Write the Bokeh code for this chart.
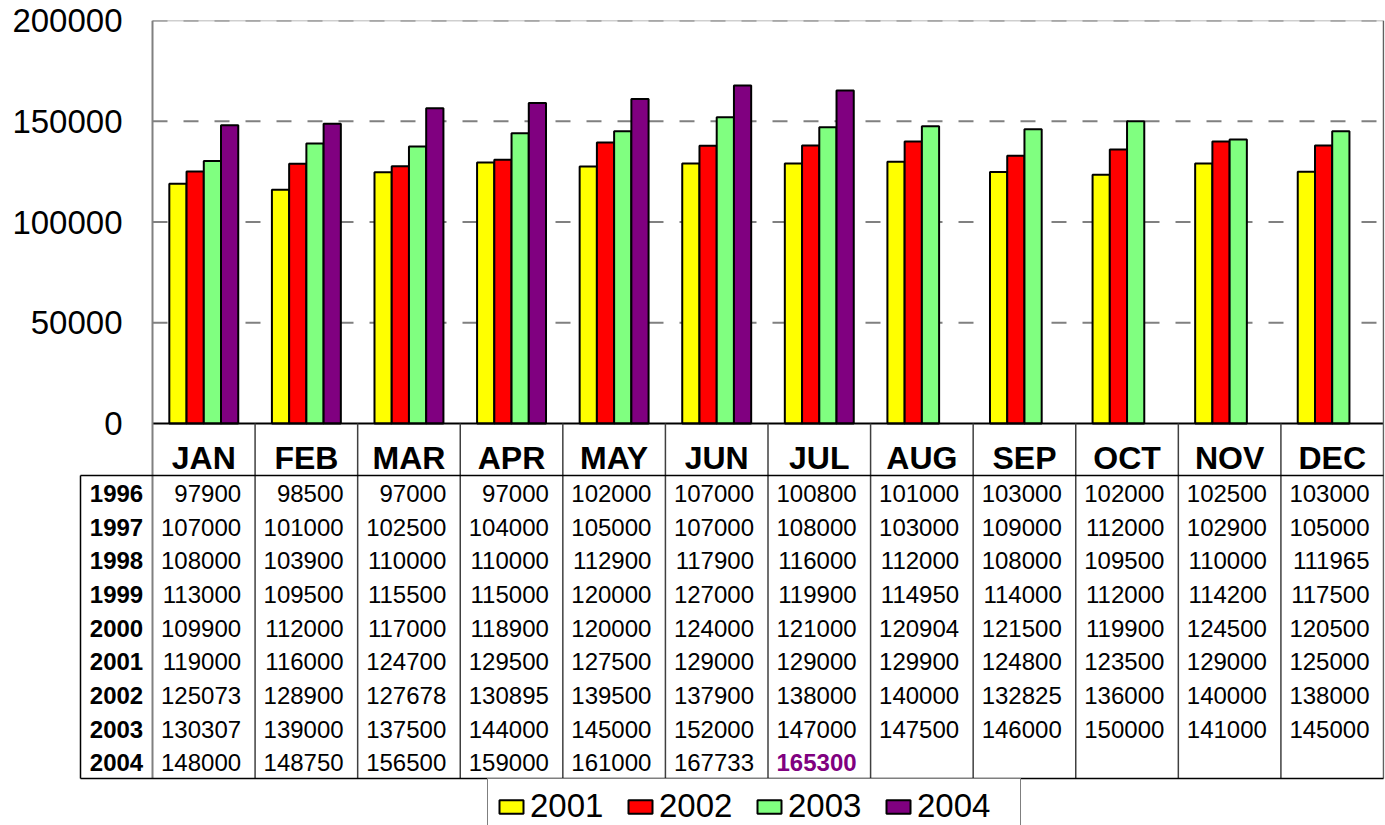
from bokeh.plotting import figure
from bokeh.models import (Range1d, FixedTicker, Legend, LegendItem, NumeralTickFormatter)
from bokeh.core.properties import value
from bokeh.embed import file_html
from bokeh.resources import INLINE

# ---------------- data ----------------
months = ["JAN", "FEB", "MAR", "APR", "MAY", "JUN", "JUL", "AUG", "SEP", "OCT", "NOV", "DEC"]
table_years = ["1996", "1997", "1998", "1999", "2000", "2001", "2002", "2003", "2004"]
v1996 = [97900, 98500, 97000, 97000, 102000, 107000, 100800, 101000, 103000, 102000, 102500, 103000]
v1997 = [107000, 101000, 102500, 104000, 105000, 107000, 108000, 103000, 109000, 112000, 102900, 105000]
v1998 = [108000, 103900, 110000, 110000, 112900, 117900, 116000, 112000, 108000, 109500, 110000, 111965]
v1999 = [113000, 109500, 115500, 115000, 120000, 127000, 119900, 114950, 114000, 112000, 114200, 117500]
v2000 = [109900, 112000, 117000, 118900, 120000, 124000, 121000, 120904, 121500, 119900, 124500, 120500]
v2001 = [119000, 116000, 124700, 129500, 127500, 129000, 129000, 129900, 124800, 123500, 129000, 125000]
v2002 = [125073, 128900, 127678, 130895, 139500, 137900, 138000, 140000, 132825, 136000, 140000, 138000]
v2003 = [130307, 139000, 137500, 144000, 145000, 152000, 147000, 147500, 146000, 150000, 141000, 145000]
v2004 = [148000, 148750, 156500, 159000, 161000, 167733, 165300]
table_rows = [v1996, v1997, v1998, v1999, v2000, v2001, v2002, v2003, v2004]

chart_years = ["2001", "2002", "2003", "2004"]
chart_series = [v2001, v2002, v2003, v2004]
colors = ["#FFFF00", "#FF0000", "#80FF80", "#800080"]
y_ticks = [0, 50000, 100000, 150000, 200000]

# ---------------- layout (pixels) ----------------
FONT = "Liberation Sans"
FIG_W, FIG_H = 1385, 825
FRAME_L, FRAME_R, FRAME_T, FRAME_B = 78, 1384, 20, 825
PLOT_L, PLOT_R = 152, 1383          # month columns span
CHART_B = 423                       # value 0
HEADER_B = 475                      # bottom of month header row
TABLE_B = 778                       # bottom of table
ROWLAB_L = 80                       # left edge of year-label column
LABEL_RIGHT = 122                   # right edge of y tick labels

NM = len(months)
NROWS = len(table_years)
col_w = (PLOT_R - PLOT_L) / NM
ROW_H = (TABLE_B - HEADER_B) / NROWS
ymax = y_ticks[-1]
chart_px = CHART_B - FRAME_T
ymin = -ymax * (FRAME_B - CHART_B) / chart_px

x0 = (FRAME_L - PLOT_L) / col_w
x1 = NM + (FRAME_R - PLOT_R) / col_w
tbl_top = -(HEADER_B - FRAME_T) / ROW_H
tbl_bot = NROWS + (FRAME_B - TABLE_B) / ROW_H
hdr_top = -(HEADER_B - CHART_B) / ROW_H
rowlab_x = (ROWLAB_L - PLOT_L) / col_w

p = figure(width=FIG_W, height=FIG_H, output_backend="svg", toolbar_location=None,
           x_range=Range1d(x0, x1), y_range=Range1d(ymin, ymax),
           min_border_left=FRAME_L, min_border_right=FIG_W - FRAME_R,
           min_border_top=FRAME_T, min_border_bottom=FIG_H - FRAME_B,
           x_axis_location=None)
p.extra_y_ranges = {"tbl": Range1d(start=tbl_bot, end=tbl_top)}
p.background_fill_color = "white"
p.border_fill_color = "white"
p.outline_line_color = None
p.xgrid.visible = False
p.ygrid.visible = False

# y axis (labels pulled in over the year-label column)
ax = p.yaxis[0]
ax.ticker = FixedTicker(ticks=y_ticks)
ax.formatter = NumeralTickFormatter(format="0")
ax.major_tick_out = 0
ax.major_tick_in = 0
ax.minor_tick_out = 0
ax.minor_tick_in = 0
ax.axis_line_color = None
ax.major_label_standoff = -(LABEL_RIGHT - FRAME_L)
ax.major_label_text_font = FONT
ax.major_label_text_font_size = "33px"
ax.major_label_text_color = "black"

# plot-area top border and dashed gridlines
p.segment(x0=[0], x1=[NM], y0=[ymax], y1=[ymax], line_color="#A0A0A0", line_width=1.5)
p.segment(x0=[0] * 4, x1=[NM] * 4, y0=y_ticks[1:], y1=y_ticks[1:],
          line_color="#808080", line_width=2, line_dash="15 16")

# bars
bw = 0.168
renderers = []
for k, (yr, vals, col) in enumerate(zip(chart_years, chart_series, colors)):
    xs = [i + 0.5 + (k - 1.5) * bw for i in range(len(vals))]
    r = p.vbar(x=xs, top=vals, bottom=0, width=bw, fill_color=col,
               line_color="black", line_width=2)
    renderers.append(r)

# chart bottom line
p.segment(x0=[0], x1=[NM], y0=[0], y1=[0], line_color="black", line_width=2)

# left border of plot/table and right border
p.segment(x0=[0], x1=[0], y0=[tbl_top], y1=[NROWS], line_color="#808080",
          line_width=2, y_range_name="tbl")
p.segment(x0=[NM], x1=[NM], y0=[tbl_top], y1=[NROWS], line_color="#606060",
          line_width=1.5, y_range_name="tbl")

# table grid
p.segment(x0=list(range(1, NM)), x1=list(range(1, NM)),
          y0=[hdr_top] * (NM - 1), y1=[NROWS] * (NM - 1),
          line_color="#404040", line_width=1.5, y_range_name="tbl")
p.segment(x0=[rowlab_x, rowlab_x], x1=[NM, NM], y0=[0, NROWS], y1=[0, NROWS],
          line_color="black", line_width=1.5, y_range_name="tbl")
p.segment(x0=[rowlab_x], x1=[rowlab_x], y0=[0], y1=[NROWS],
          line_color="black", line_width=1.5, y_range_name="tbl")

# month labels
p.text(x=[i + 0.5 for i in range(NM)], y=[-0.52] * NM, text=months,
       text_font=value(FONT), text_font_style="bold", text_font_size="32px",
       text_align="center", text_baseline="middle", text_color="black", y_range_name="tbl")

# table values
pad = 14 / col_w
tx, ty, tt = [], [], []
hx, hy, ht = [], [], []
for r_i, row in enumerate(table_rows):
    for c_i, v in enumerate(row):
        if r_i == NROWS - 1 and c_i == len(row) - 1:
            hx.append(c_i + 1 - pad); hy.append(r_i + 0.53); ht.append(str(v))
        else:
            tx.append(c_i + 1 - pad); ty.append(r_i + 0.53); tt.append(str(v))
p.text(x=tx, y=ty, text=tt, text_font=value(FONT), text_font_size="24px",
       text_align="right", text_baseline="middle", text_color="black", y_range_name="tbl")
p.text(x=hx, y=hy, text=ht, text_font=value(FONT), text_font_style="bold", text_font_size="24px",
       text_align="right", text_baseline="middle", text_color="#800080", y_range_name="tbl")

# year labels
p.text(x=[rowlab_x / 2] * NROWS, y=[i + 0.53 for i in range(NROWS)], text=table_years,
       text_font=value(FONT), text_font_style="bold", text_font_size="24px",
       text_align="center", text_baseline="middle", text_color="black", y_range_name="tbl")

# legend
LEG_L, LEG_T = 487, 782
legend = Legend(items=[LegendItem(label=yr, renderers=[r]) for yr, r in zip(chart_years, renderers)],
                orientation="horizontal",
                location=(LEG_L - FRAME_L, FRAME_B - LEG_T - 52),
                label_text_font=FONT, label_text_font_size="33px", label_text_color="black",
                glyph_width=30, glyph_height=17, label_standoff=4, spacing=0,
                label_width=95, padding=8, margin=0,
                border_line_color="black", border_line_width=1.5,
                background_fill_color="white", background_fill_alpha=1)
p.add_layout(legend)

open("out.html", "w").write(file_html(p, INLINE))
